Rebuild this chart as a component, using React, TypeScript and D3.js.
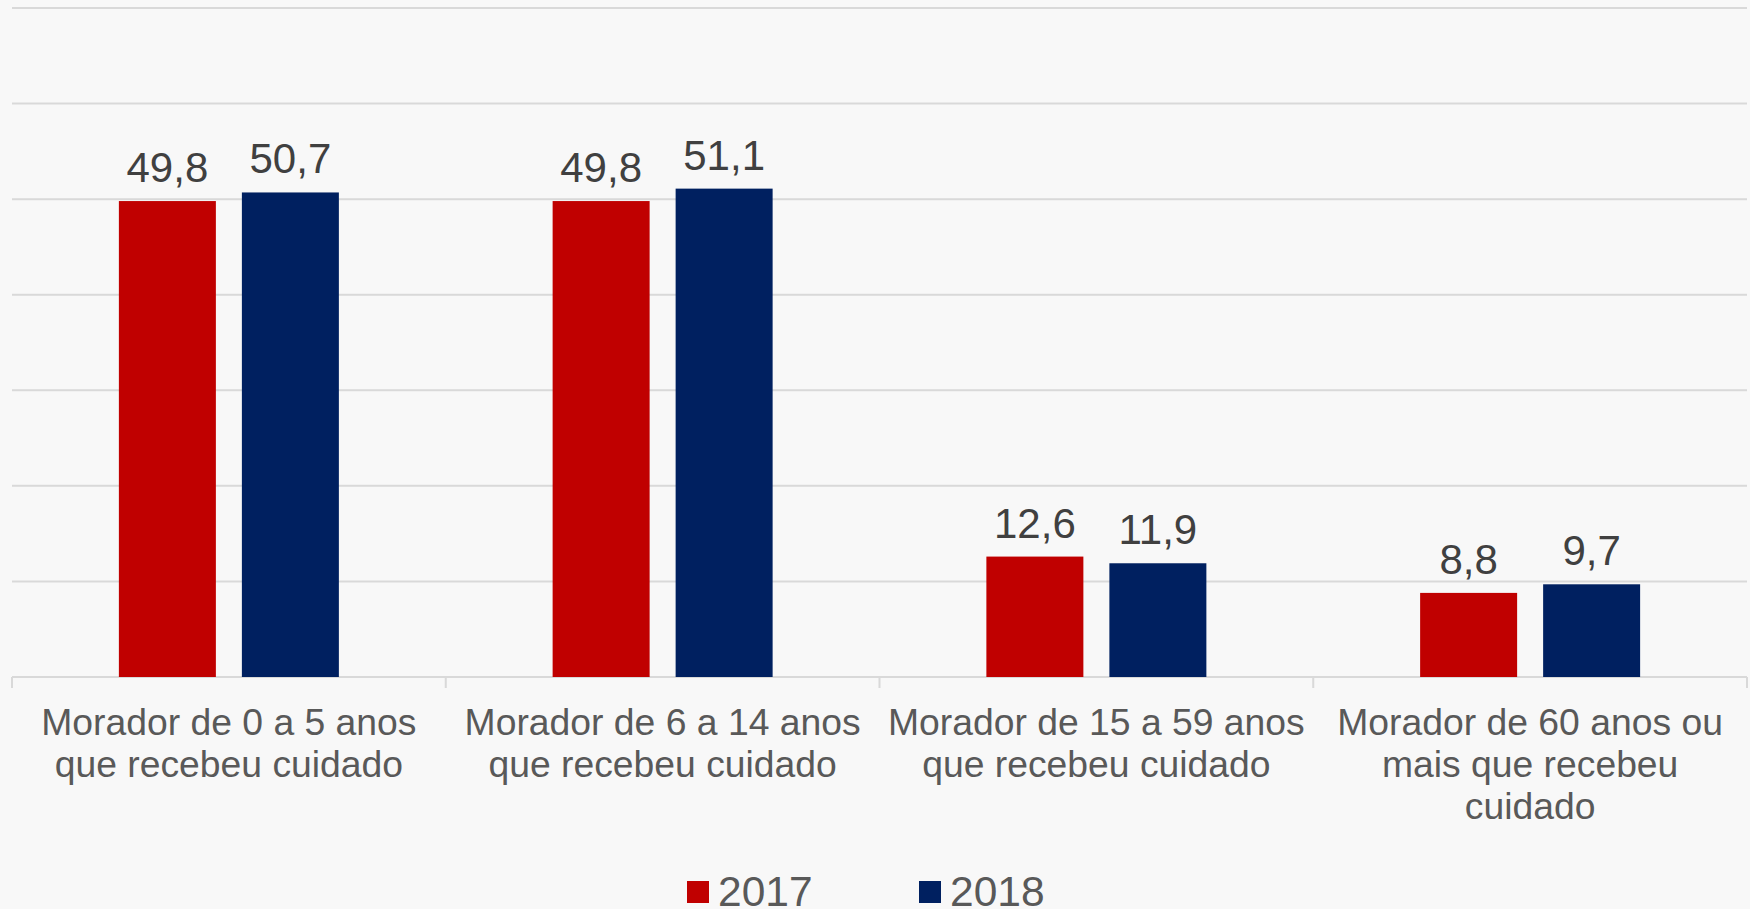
import React, { useEffect, useRef } from 'react';
import * as d3 from 'd3';

const categories = [
  ['Morador de 0 a 5 anos', 'que recebeu cuidado'],
  ['Morador de 6 a 14 anos', 'que recebeu cuidado'],
  ['Morador de 15 a 59 anos', 'que recebeu cuidado'],
  ['Morador de 60 anos ou', 'mais que recebeu', 'cuidado'],
];
const series = ['2017', '2018'];
const values2017 = [49.8, 49.8, 12.6, 8.8];
const values2018 = [50.7, 51.1, 11.9, 9.7];
const yTicks = [0, 10, 20, 30, 40, 50, 60, 70];

const App: React.FC = () => {
  const svgRef = useRef<SVGSVGElement>(null);

  useEffect(() => {
    if (!svgRef.current) return;
    document.body.style.margin = '0';

    const width = 1750;
    const height = 909;
    const margin = { top: 8, right: 3, bottom: 232, left: 12 };
    const font = '"Liberation Sans", Arial, sans-serif';
    const colors = ['#C00000', '#002060'];

    const svg = d3.select(svgRef.current);
    svg.selectAll('*').remove();
    svg.attr('width', width).attr('height', height);

    svg.append('rect').attr('width', width).attr('height', height).attr('fill', '#f8f8f8');

    const x = d3.scaleBand<number>()
      .domain(categories.map((_, i) => i))
      .range([margin.left, width - margin.right]);

    const y = d3.scaleLinear()
      .domain([0, 70])
      .range([height - margin.bottom, margin.top]);

    // gridlines
    svg.append('g')
      .selectAll('line')
      .data(yTicks)
      .enter().append('line')
      .attr('x1', margin.left)
      .attr('x2', width - margin.right)
      .attr('y1', d => y(d))
      .attr('y2', d => y(d))
      .attr('stroke', '#d9d9d9')
      .attr('stroke-width', 2);

    // category tick marks
    const bounds = d3.range(categories.length + 1).map(i => margin.left + i * x.bandwidth());
    svg.append('g')
      .selectAll('line')
      .data(bounds)
      .enter().append('line')
      .attr('x1', d => d)
      .attr('x2', d => d)
      .attr('y1', y(0))
      .attr('y2', y(0) + 11)
      .attr('stroke', '#d9d9d9')
      .attr('stroke-width', 2);

    const barW = 97;
    const gap = 26;
    const x1 = d3.scaleBand<string>()
      .domain(series)
      .range([0, barW * 2 + gap])
      .paddingInner(gap / (barW + gap));

    const rows = categories.map((_, i) => [values2017[i], values2018[i]]);

    const groups = svg.append('g')
      .selectAll('g')
      .data(rows)
      .enter().append('g')
      .attr('transform', (_, i) => `translate(${(x(i) || 0) + x.bandwidth() / 2 - (barW * 2 + gap) / 2}, 0)`);

    groups.selectAll('rect')
      .data(d => d.map((v, j) => ({ v, s: series[j], j })))
      .enter().append('rect')
      .attr('x', d => x1(d.s) || 0)
      .attr('width', x1.bandwidth())
      .attr('y', d => y(d.v))
      .attr('height', d => y(0) - y(d.v))
      .attr('fill', d => colors[d.j]);

    groups.selectAll('text')
      .data(d => d.map((v, j) => ({ v, s: series[j] })))
      .enter().append('text')
      .attr('x', d => (x1(d.s) || 0) + x1.bandwidth() / 2)
      .attr('y', d => y(d.v) - 19)
      .attr('text-anchor', 'middle')
      .attr('font-family', font)
      .attr('font-size', '42px')
      .attr('fill', '#404040')
      .text(d => d.v.toFixed(1).replace('.', ','));

    // category labels
    const labels = svg.append('g');
    categories.forEach((lines, i) => {
      const t = labels.append('text')
        .attr('x', (x(i) || 0) + x.bandwidth() / 2)
        .attr('y', 735)
        .attr('text-anchor', 'middle')
        .attr('font-family', font)
        .attr('font-size', '37.3px')
        .attr('fill', '#595959');
      lines.forEach((line, k) => {
        t.append('tspan')
          .attr('x', (x(i) || 0) + x.bandwidth() / 2)
          .attr('y', 735 + k * 42)
          .text(line);
      });
    });

    // legend (clipped at the bottom edge, as in the original)
    const legendX = [687, 919];
    const legend = svg.append('g');
    series.forEach((s, i) => {
      legend.append('rect')
        .attr('x', legendX[i])
        .attr('y', 881)
        .attr('width', 22)
        .attr('height', 22)
        .attr('fill', colors[i]);
      legend.append('text')
        .attr('x', legendX[i] + 31)
        .attr('y', 906)
        .attr('font-family', font)
        .attr('font-size', '42.5px')
        .attr('fill', '#595959')
        .text(s);
    });
  }, []);

  return <svg ref={svgRef} style={{ display: 'block' }}></svg>;
};

export default App;
